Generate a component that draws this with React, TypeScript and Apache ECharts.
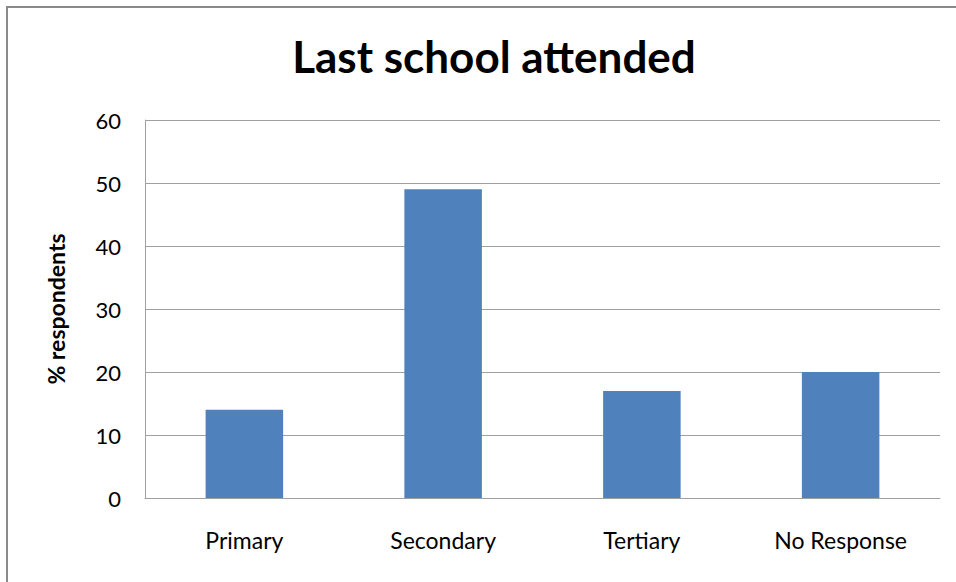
import React, { useEffect, useRef } from "react";
import * as echarts from "echarts";

const categories = ["Primary", "Secondary", "Tertiary", "No Response"];
const values = [14, 49, 17, 20];
const title = "Last school attended";
const yAxisName = "% respondents";

export default function App() {
  const ref = useRef<HTMLDivElement>(null);
  useEffect(() => {
    const chart = echarts.init(ref.current!, null, { renderer: "svg" });
    const font = "Lato, 'Open Sans', sans-serif";
    chart.setOption({
      animation: false,
      backgroundColor: "#ffffff",
      title: {
        text: title,
        left: 489,
        top: 29,
        textAlign: "center",
        textStyle: { fontFamily: font, fontSize: 44, fontWeight: "bold", color: "#000" },
      },
      graphic: [
        {
          type: "rect",
          shape: { x: 7, y: 7, width: 1000, height: 700 },
          style: { fill: "none", stroke: "#8a8a8a", lineWidth: 2 },
          silent: true,
        },
      ],
      grid: { left: 145, right: 16, top: 120, bottom: 84, containLabel: false },
      xAxis: {
        type: "category",
        data: categories,
        axisLine: { show: true, lineStyle: { color: "#a0a0a0", width: 1 } },
        axisTick: { show: false },
        axisLabel: { fontFamily: font, fontSize: 23, color: "#000", margin: 30 },
      },
      yAxis: {
        type: "value",
        min: 0,
        max: 60,
        interval: 10,
        name: yAxisName,
        nameLocation: "middle",
        nameRotate: 90,
        nameGap: 78,
        nameTextStyle: { fontFamily: font, fontSize: 23, fontWeight: "bold", color: "#000" },
        axisLine: { show: true, lineStyle: { color: "#a0a0a0", width: 1 } },
        axisTick: { show: false },
        axisLabel: { fontFamily: font, fontSize: 22, color: "#000", margin: 24 },
        splitLine: { show: true, lineStyle: { color: "#a0a0a0", width: 1 } },
      },
      series: [
        {
          type: "bar",
          data: values,
          barWidth: "39%",
          itemStyle: { color: "#4f81bd" },
        },
      ],
    });
    return () => chart.dispose();
  }, []);
  return (
    <div
      ref={ref}
      style={{ position: "fixed", left: 0, top: 0, width: 956, height: 582 }}
    />
  );
}
